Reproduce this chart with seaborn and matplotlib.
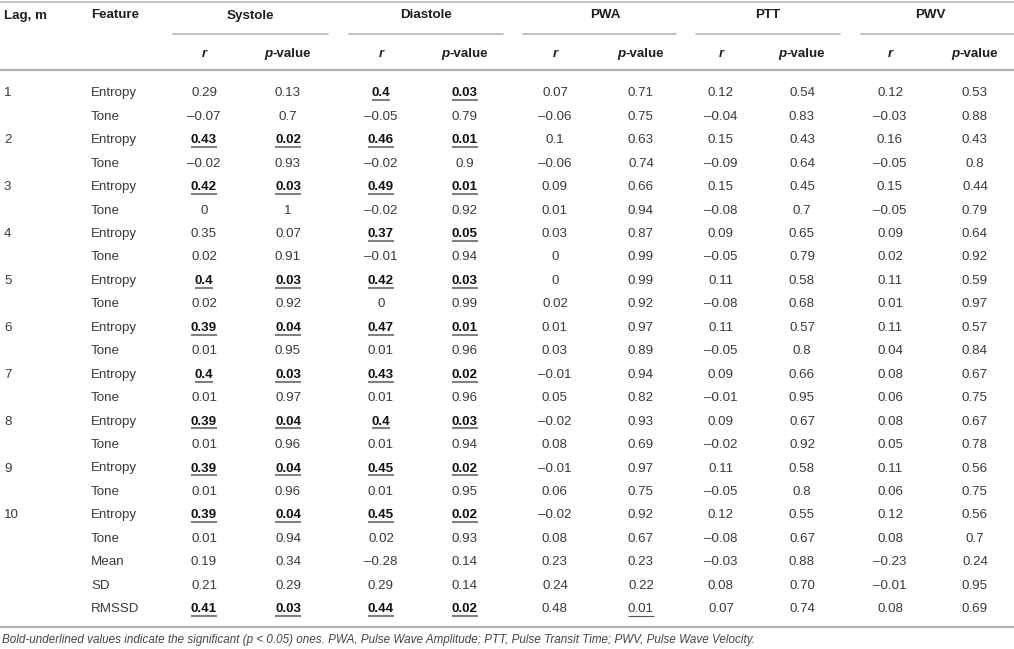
import matplotlib
matplotlib.use("Agg")
import matplotlib.pyplot as plt
import seaborn as sns

# table content
measures = ["Systole", "Diastole", "PWA", "PTT", "PWV"]
lag_labels = ["1", "", "2", "", "3", "", "4", "", "5", "", "6", "", "7", "", "8", "", "9", "", "10", "", "", "", ""]
features = ["Entropy", "Tone"] * 10 + ["Mean", "SD", "RMSSD"]

systole_r = ["0.29", "–0.07", "0.43", "–0.02", "0.42", "0", "0.35", "0.02", "0.4", "0.02", "0.39", "0.01",
             "0.4", "0.01", "0.39", "0.01", "0.39", "0.01", "0.39", "0.01", "0.19", "0.21", "0.41"]
systole_p = ["0.13", "0.7", "0.02", "0.93", "0.03", "1", "0.07", "0.91", "0.03", "0.92", "0.04", "0.95",
             "0.03", "0.97", "0.04", "0.96", "0.04", "0.96", "0.04", "0.94", "0.34", "0.29", "0.03"]
diastole_r = ["0.4", "–0.05", "0.46", "–0.02", "0.49", "–0.02", "0.37", "–0.01", "0.42", "0", "0.47", "0.01",
              "0.43", "0.01", "0.4", "0.01", "0.45", "0.01", "0.45", "0.02", "–0.28", "0.29", "0.44"]
diastole_p = ["0.03", "0.79", "0.01", "0.9", "0.01", "0.92", "0.05", "0.94", "0.03", "0.99", "0.01", "0.96",
              "0.02", "0.96", "0.03", "0.94", "0.02", "0.95", "0.02", "0.93", "0.14", "0.14", "0.02"]
pwa_r = ["0.07", "–0.06", "0.1", "–0.06", "0.09", "0.01", "0.03", "0", "0", "0.02", "0.01", "0.03",
         "–0.01", "0.05", "–0.02", "0.08", "–0.01", "0.06", "–0.02", "0.08", "0.23", "0.24", "0.48"]
pwa_p = ["0.71", "0.75", "0.63", "0.74", "0.66", "0.94", "0.87", "0.99", "0.99", "0.92", "0.97", "0.89",
         "0.94", "0.82", "0.93", "0.69", "0.97", "0.75", "0.92", "0.67", "0.23", "0.22", "0.01"]
ptt_r = ["0.12", "–0.04", "0.15", "–0.09", "0.15", "–0.08", "0.09", "–0.05", "0.11", "–0.08", "0.11", "–0.05",
         "0.09", "–0.01", "0.09", "–0.02", "0.11", "–0.05", "0.12", "–0.08", "–0.03", "0.08", "0.07"]
ptt_p = ["0.54", "0.83", "0.43", "0.64", "0.45", "0.7", "0.65", "0.79", "0.58", "0.68", "0.57", "0.8",
         "0.66", "0.95", "0.67", "0.92", "0.58", "0.8", "0.55", "0.67", "0.88", "0.70", "0.74"]
pwv_r = ["0.12", "–0.03", "0.16", "–0.05", "0.15", "–0.05", "0.09", "0.02", "0.11", "0.01", "0.11", "0.04",
         "0.08", "0.06", "0.08", "0.05", "0.11", "0.06", "0.12", "0.08", "–0.23", "–0.01", "0.08"]
pwv_p = ["0.53", "0.88", "0.43", "0.8", "0.44", "0.79", "0.64", "0.92", "0.59", "0.97", "0.57", "0.84",
         "0.67", "0.75", "0.67", "0.78", "0.56", "0.75", "0.56", "0.7", "0.24", "0.95", "0.69"]

bold_measures = ["Systole", "Diastole"]
underline_only = [("PWA", 22)]  # (measure, row) underlined but not bold
footnote = ("Bold-underlined values indicate the significant (p < 0.05) ones. PWA, Pulse Wave Amplitude; "
            "PTT, Pulse Transit Time; PWV, Pulse Wave Velocity.")

columns = {
    "Systole": (systole_r, systole_p),
    "Diastole": (diastole_r, diastole_p),
    "PWA": (pwa_r, pwa_p),
    "PTT": (ptt_r, ptt_p),
    "PWV": (pwv_r, pwv_p),
}

# layout (pixels)
col_x = {"Systole": (204, 288), "Diastole": (381, 465), "PWA": (555, 641),
         "PTT": (721, 802), "PWV": (890, 975)}
group_span = {"Systole": (173, 328), "Diastole": (349, 503), "PWA": (523, 676),
              "PTT": (696, 840), "PWV": (861, 1014)}
group_label_x = {"Systole": 250, "Diastole": 426, "PWA": 605, "PTT": 768, "PWV": 930}
row0, row_step = 96.3, 23.45
fs = 9.6
body_c, head_c, bold_c, rule_c = "#3a3a3a", "#1e1e1e", "#111111", "#b4b4b4"

sns.set_theme(style="white")
plt.rcParams["font.family"] = ["Liberation Sans", "DejaVu Sans"]

fig = plt.figure(figsize=(10.14, 6.49), dpi=100)
ax = fig.add_axes([0, 0, 1, 1])
ax.set_xlim(0, 1014)
ax.set_ylim(649, 0)
ax.axis("off")
renderer = fig.canvas.get_renderer()


def underline(t, y, color, lw):
    bb = t.get_window_extent(renderer)
    inv = ax.transData.inverted()
    x0 = inv.transform((bb.x0, bb.y0))[0]
    x1 = inv.transform((bb.x1, bb.y1))[0]
    ax.plot([x0, x1], [y, y], color=color, lw=lw, solid_capstyle="butt")


def p_header(xc, y):
    a = ax.text(0, y, "p", fontsize=fs, fontstyle="italic", fontweight="bold",
                color=head_c, ha="left", va="baseline")
    b = ax.text(0, y, "-value", fontsize=fs, fontweight="bold",
                color=head_c, ha="left", va="baseline")
    wa = a.get_window_extent(renderer).width
    wb = b.get_window_extent(renderer).width
    x0 = xc - (wa + wb) / 2
    a.set_x(x0)
    b.set_x(x0 + wa)


# rules
ax.plot([0, 1014], [1.5, 1.5], color=rule_c, lw=1.2)
ax.plot([0, 1014], [70, 70], color=rule_c, lw=1.6)
ax.plot([0, 1014], [627, 627], color=rule_c, lw=1.6)
for m in measures:
    ax.plot(group_span[m], [34, 34], color=rule_c, lw=1.2)

# header
ax.text(4, 18.5, "Lag, m", fontsize=fs, fontweight="bold", color=head_c, va="baseline")
ax.text(91, 18.5, "Feature", fontsize=fs, fontweight="bold", color=head_c, va="baseline")
for m in measures:
    ax.text(group_label_x[m], 18.5, m, fontsize=fs, fontweight="bold", color=head_c,
            ha="center", va="baseline")
    xr, xp = col_x[m]
    ax.text(xr, 57, "r", fontsize=fs, fontweight="bold", fontstyle="italic", color=head_c,
            ha="center", va="baseline")
    p_header(xp, 57)

# body
for i, (lag, feat) in enumerate(zip(lag_labels, features)):
    y = row0 + i * row_step
    ax.text(4, y, lag, fontsize=fs, color=body_c, va="baseline")
    ax.text(91, y, feat, fontsize=fs, color=body_c, va="baseline")
    for m in measures:
        r_vals, p_vals = columns[m]
        sig = m in bold_measures and float(p_vals[i].replace("–", "-")) <= 0.05
        for val, x in zip((r_vals[i], p_vals[i]), col_x[m]):
            t = ax.text(x, y, val, fontsize=fs, ha="center", va="baseline",
                        color=bold_c if sig else body_c,
                        fontweight="bold" if sig else "normal")
            if sig:
                underline(t, y + 3.8, "#808080", 1.5)
        if (m, i) in underline_only:
            t = ax.texts[-1]
            underline(t, y + 3.5, "#555555", 0.8)

ax.text(2, 643, footnote, fontsize=8.4, fontstyle="italic", color="#444444", va="baseline")

fig.savefig("out.png", dpi=100)
